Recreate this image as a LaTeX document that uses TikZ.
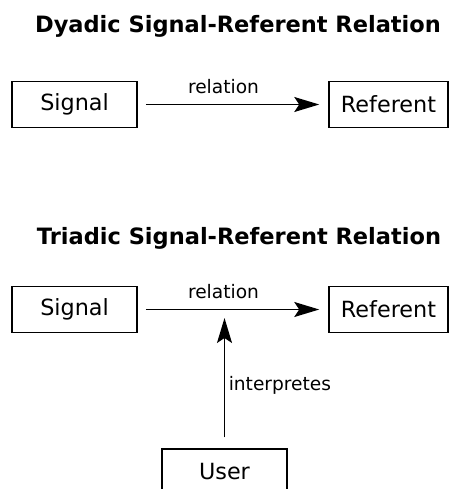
\documentclass[tikz,border=0pt]{standalone}
\usepackage{fontspec}
\setmainfont{DejaVu Sans}
\usetikzlibrary{arrows.meta}
\begin{document}
\begin{tikzpicture}[x=1pt,y=-1pt,
 box/.style={draw, line width=1.5pt, minimum height=46pt, inner sep=0pt, font=\fontsize{22.3}{27}\selectfont},
 title/.style={font=\fontsize{22.5}{27}\selectfont\bfseries, anchor=base, inner sep=0pt},
 lbl/.style={font=\fontsize{18.6}{22}\selectfont, inner sep=0pt},
 rel/.style={line width=1.6pt, -{Stealth[length=25pt,width=15pt,inset=5pt]}}]
\useasboundingbox (0,0) rectangle (449,489);
\clip (0,0) rectangle (449,489);
% Dyadic
\node[title] (t1) at (238,33) {Dyadic Signal-Referent Relation};
\node[box, minimum width=125pt] (s1) at (74.5,104.5) {Signal};
\node[box, minimum width=119pt] (r1) at (388.5,104.5) {Referent};
\draw[rel, shorten <=8pt, shorten >=9pt] (s1) -- (r1)
  node[lbl, pos=0.45, anchor=south, yshift=9.5pt] (l1) {relation};
% Triadic
\node[title] (t2) at (239,244.3) {Triadic Signal-Referent Relation};
\node[box, minimum width=125pt] (s2) at (74.5,309.5) {Signal};
\node[box, minimum width=119pt] (r2) at (388.5,309.5) {Referent};
\draw[rel, shorten <=8pt, shorten >=9pt] (s2) -- coordinate[pos=0.455] (m) (r2)
  node[lbl, pos=0.45, anchor=south, yshift=9.5pt] (l2) {relation};
\node[box, minimum width=125pt] (u) at (224.5,472) {User};
\draw[rel, line width=1.5pt, shorten <=11pt, shorten >=8.5pt] (u.north) -- (u.north |- m)
  node[lbl, pos=0.416, anchor=base west, xshift=3.5pt] (l3) {interpretes};
\end{tikzpicture}
\end{document}
